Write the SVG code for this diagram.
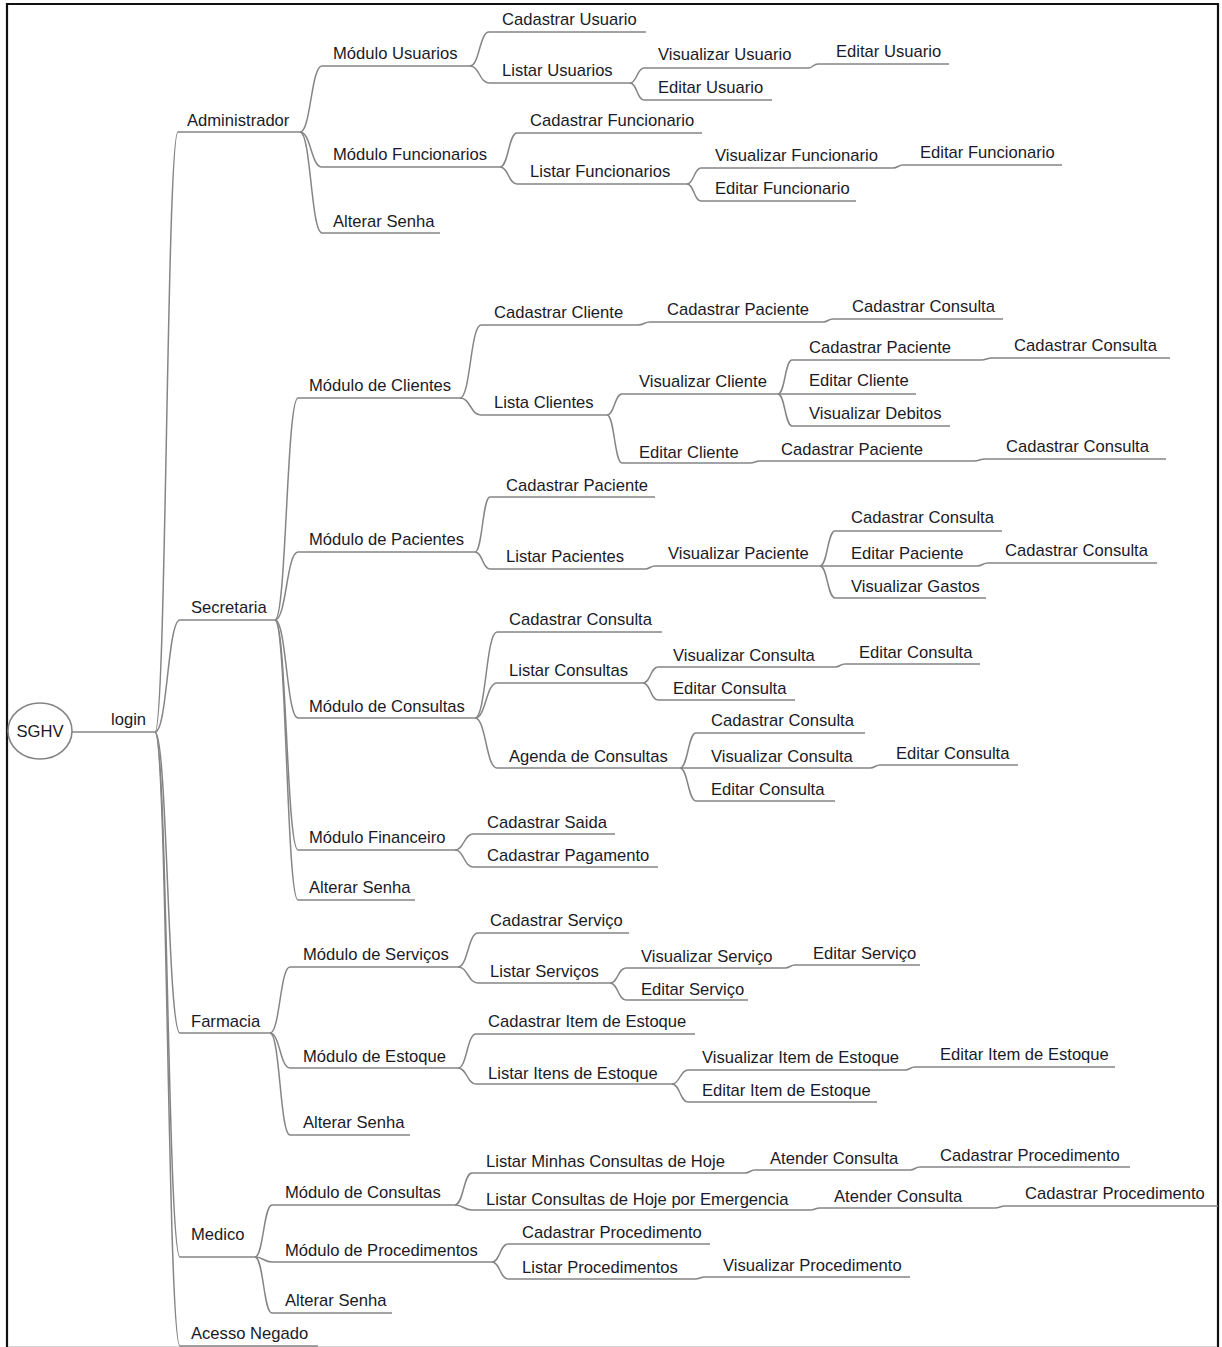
<svg xmlns="http://www.w3.org/2000/svg" width="1222" height="1347" viewBox="0 0 1222 1347">
  <style>
    .t { font-family: "Liberation Sans", Arial, sans-serif; font-size: 16.6px; fill: #1a1a28; }
    .u { stroke: #858585; stroke-width: 1.7; fill: none; }
    .c path { stroke: #858585; stroke-width: 1.5; fill: none; }
  </style>
  <rect x="0" y="0" width="1222" height="1347" fill="#ffffff"/>
  <!-- frame -->
  <path d="M7 1347 V4 H1218 V1347" fill="none" stroke="#111111" stroke-width="2.2"/>
  <line x1="8" y1="1346.5" x2="1217" y2="1346.5" stroke="#d4d4d4" stroke-width="1"/>

  <!-- connectors -->
  <g id="connectors" class="c">
    <path d="M155 732 C166.5 732 166.5 132 178 132"/>
    <path d="M155 732 C167.5 732 167.5 620 180 620"/>
    <path d="M155 732 C167.5 732 167.5 1033 180 1033"/>
    <path d="M155 732 C167.5 732 167.5 1257 180 1257"/>
    <path d="M155 732 C167.5 732 167.5 1346 180 1346"/>

    <path d="M300 132 C311 132 311 66 322 66"/>
    <path d="M300 132 C311 132 311 167 322 167"/>
    <path d="M300 132 C311 132 311 233 322 233"/>
    <path d="M470 66 C479.5 66 479.5 32 489 32"/>
    <path d="M470 66 C479.5 66 479.5 83 489 83"/>
    <path d="M630 83 C637 83 637 68 644 68"/>
    <path d="M630 83 C637 83 637 100 644 100"/>
    <path d="M808 68 C813 68 813 64 818 64"/>
    <path d="M500 167 C508.5 167 508.5 133 517 133"/>
    <path d="M500 167 C508.5 167 508.5 184 517 184"/>
    <path d="M687 184 C694 184 694 168 701 168"/>
    <path d="M687 184 C694 184 694 201 701 201"/>
    <path d="M893 168 C898 168 898 165 903 165"/>

    <path d="M275 620 C286.5 620 286.5 398 298 398"/>
    <path d="M275 620 C286.5 620 286.5 552 298 552"/>
    <path d="M275 620 C286.5 620 286.5 718 298 718"/>
    <path d="M275 620 C286.5 620 286.5 850 298 850"/>
    <path d="M275 620 C286.5 620 286.5 900 298 900"/>
    <path d="M460 398 C470.5 398 470.5 325 481 325"/>
    <path d="M460 398 C470.5 398 470.5 415 481 415"/>
    <path d="M638 325 C644 325 644 322 650 322"/>
    <path d="M823 322 C828 322 828 319 833 319"/>
    <path d="M607 415 C614.5 415 614.5 394 622 394"/>
    <path d="M607 415 C614.5 415 614.5 463 622 463"/>
    <path d="M778 394 C785 394 785 360 792 360"/>
    <path d="M778 394 C785 394 785 426 792 426"/>
    <path d="M981 360 C986.5 360 986.5 358 992 358"/>
    <path d="M750 463 C755 463 755 461 760 461"/>
    <path d="M974 461 C979.5 461 979.5 459 985 459"/>
    <path d="M475 552 C482.5 552 482.5 497 490 497"/>
    <path d="M475 552 C482.5 552 482.5 569 490 569"/>
    <path d="M645 569 C650 569 650 566 655 566"/>
    <path d="M820 566 C827.5 566 827.5 531 835 531"/>
    <path d="M820 566 C827.5 566 827.5 598 835 598"/>
    <path d="M977 566 C982.5 566 982.5 563 988 563"/>
    <path d="M475 718 C486 718 486 632 497 632"/>
    <path d="M475 718 C486 718 486 683 497 683"/>
    <path d="M475 718 C486 718 486 768 497 768"/>
    <path d="M643 683 C650.5 683 650.5 667 658 667"/>
    <path d="M643 683 C650.5 683 650.5 700 658 700"/>
    <path d="M835 667 C840 667 840 664 845 664"/>
    <path d="M680 768 C688 768 688 733 696 733"/>
    <path d="M680 768 C688 768 688 801 696 801"/>
    <path d="M870 768 C875 768 875 765 880 765"/>
    <path d="M455 850 C464 850 464 834 473 834"/>
    <path d="M455 850 C464 850 464 867 473 867"/>

    <path d="M270 1033 C280 1033 280 967 290 967"/>
    <path d="M270 1033 C280 1033 280 1068 290 1068"/>
    <path d="M270 1033 C280 1033 280 1135 290 1135"/>
    <path d="M458 967 C468 967 468 933 478 933"/>
    <path d="M458 967 C468 967 468 983 478 983"/>
    <path d="M610 983 C618 983 618 968 626 968"/>
    <path d="M610 983 C618 983 618 1000 626 1000"/>
    <path d="M785 968 C790 968 790 965 795 965"/>
    <path d="M458 1068 C467 1068 467 1034 476 1034"/>
    <path d="M458 1068 C467 1068 467 1084 476 1084"/>
    <path d="M672 1084 C680 1084 680 1070 688 1070"/>
    <path d="M672 1084 C680 1084 680 1102 688 1102"/>
    <path d="M905 1070 C910 1070 910 1067 915 1067"/>

    <path d="M255 1257 C263.5 1257 263.5 1205 272 1205"/>
    <path d="M255 1257 C263.5 1257 263.5 1262 272 1262"/>
    <path d="M255 1257 C263.5 1257 263.5 1313 272 1313"/>
    <path d="M455 1205 C463.5 1205 463.5 1173 472 1173"/>
    <path d="M455 1205 C463.5 1205 463.5 1210 472 1210"/>
    <path d="M745 1173 C750 1173 750 1170 755 1170"/>
    <path d="M910 1170 C915 1170 915 1167 920 1167"/>
    <path d="M810 1210 C815 1210 815 1208 820 1208"/>
    <path d="M995 1208 C1000 1208 1000 1206 1005 1206"/>
    <path d="M492 1262 C500 1262 500 1244 508 1244"/>
    <path d="M492 1262 C500 1262 500 1279 508 1279"/>
    <path d="M695 1279 C700 1279 700 1277 705 1277"/>
  </g>

  <!-- root -->
  <g id="n-sghv">
    <ellipse cx="40" cy="731" rx="32" ry="28" fill="#ffffff" stroke="#858585" stroke-width="1.6"/>
    <text class="t" x="40" y="737" text-anchor="middle">SGHV</text>
  </g>
  <g id="n-login"><line class="u" x1="72" y1="732" x2="155" y2="732"/><text class="t" x="111" y="725">login</text></g>

  <!-- Administrador -->
  <g id="n-admin"><line class="u" x1="178" y1="132" x2="300" y2="132"/><text class="t" x="187" y="126">Administrador</text></g>
  <g id="n-admin-usuarios"><line class="u" x1="322" y1="66" x2="470" y2="66"/><text class="t" x="333" y="59">Módulo Usuarios</text></g>
  <g id="n-admin-usuarios-cad"><line class="u" x1="489" y1="32" x2="646" y2="32"/><text class="t" x="502" y="25">Cadastrar Usuario</text></g>
  <g id="n-admin-usuarios-list"><line class="u" x1="489" y1="83" x2="630" y2="83"/><text class="t" x="502" y="76">Listar Usuarios</text></g>
  <g id="n-admin-usuarios-vis"><line class="u" x1="644" y1="68" x2="808" y2="68"/><text class="t" x="658" y="60">Visualizar Usuario</text></g>
  <g id="n-admin-usuarios-vis-ed"><line class="u" x1="818" y1="64" x2="949" y2="64"/><text class="t" x="836" y="57">Editar Usuario</text></g>
  <g id="n-admin-usuarios-ed"><line class="u" x1="644" y1="100" x2="772" y2="100"/><text class="t" x="658" y="93">Editar Usuario</text></g>
  <g id="n-admin-func"><line class="u" x1="322" y1="167" x2="500" y2="167"/><text class="t" x="333" y="160">Módulo Funcionarios</text></g>
  <g id="n-admin-func-cad"><line class="u" x1="517" y1="133" x2="702" y2="133"/><text class="t" x="530" y="126">Cadastrar Funcionario</text></g>
  <g id="n-admin-func-list"><line class="u" x1="517" y1="184" x2="687" y2="184"/><text class="t" x="530" y="177">Listar Funcionarios</text></g>
  <g id="n-admin-func-vis"><line class="u" x1="701" y1="168" x2="893" y2="168"/><text class="t" x="715" y="161">Visualizar Funcionario</text></g>
  <g id="n-admin-func-vis-ed"><line class="u" x1="903" y1="165" x2="1062" y2="165"/><text class="t" x="920" y="158">Editar Funcionario</text></g>
  <g id="n-admin-func-ed"><line class="u" x1="701" y1="201" x2="856" y2="201"/><text class="t" x="715" y="194">Editar Funcionario</text></g>
  <g id="n-admin-senha"><line class="u" x1="322" y1="233" x2="440" y2="233"/><text class="t" x="333" y="227">Alterar Senha</text></g>

  <!-- Secretaria -->
  <g id="n-sec"><line class="u" x1="180" y1="620" x2="275" y2="620"/><text class="t" x="191" y="613">Secretaria</text></g>
  <g id="n-sec-cli"><line class="u" x1="298" y1="398" x2="460" y2="398"/><text class="t" x="309" y="391">Módulo de Clientes</text></g>
  <g id="n-sec-cli-cad"><line class="u" x1="481" y1="325" x2="638" y2="325"/><text class="t" x="494" y="318">Cadastrar Cliente</text></g>
  <g id="n-sec-cli-cad-pac"><line class="u" x1="650" y1="322" x2="823" y2="322"/><text class="t" x="667" y="315">Cadastrar Paciente</text></g>
  <g id="n-sec-cli-cad-pac-con"><line class="u" x1="833" y1="319" x2="1003" y2="319"/><text class="t" x="852" y="312">Cadastrar Consulta</text></g>
  <g id="n-sec-cli-list"><line class="u" x1="481" y1="415" x2="607" y2="415"/><text class="t" x="494" y="408">Lista Clientes</text></g>
  <g id="n-sec-cli-vis"><line class="u" x1="622" y1="394" x2="778" y2="394"/><text class="t" x="639" y="387">Visualizar Cliente</text></g>
  <g id="n-sec-cli-vis-pac"><line class="u" x1="792" y1="360" x2="981" y2="360"/><text class="t" x="809" y="353">Cadastrar Paciente</text></g>
  <g id="n-sec-cli-vis-pac-con"><line class="u" x1="992" y1="358" x2="1170" y2="358"/><text class="t" x="1014" y="351">Cadastrar Consulta</text></g>
  <g id="n-sec-cli-vis-ed"><line class="u" x1="778" y1="394" x2="916" y2="394"/><text class="t" x="809" y="386">Editar Cliente</text></g>
  <g id="n-sec-cli-vis-deb"><line class="u" x1="792" y1="426" x2="950" y2="426"/><text class="t" x="809" y="419">Visualizar Debitos</text></g>
  <g id="n-sec-cli-ed"><line class="u" x1="622" y1="463" x2="750" y2="463"/><text class="t" x="639" y="458">Editar Cliente</text></g>
  <g id="n-sec-cli-ed-pac"><line class="u" x1="760" y1="461" x2="974" y2="461"/><text class="t" x="781" y="455">Cadastrar Paciente</text></g>
  <g id="n-sec-cli-ed-pac-con"><line class="u" x1="985" y1="459" x2="1166" y2="459"/><text class="t" x="1006" y="452">Cadastrar Consulta</text></g>

  <g id="n-sec-pac"><line class="u" x1="298" y1="552" x2="475" y2="552"/><text class="t" x="309" y="545">Módulo de Pacientes</text></g>
  <g id="n-sec-pac-cad"><line class="u" x1="490" y1="497" x2="655" y2="497"/><text class="t" x="506" y="491">Cadastrar Paciente</text></g>
  <g id="n-sec-pac-list"><line class="u" x1="490" y1="569" x2="645" y2="569"/><text class="t" x="506" y="562">Listar Pacientes</text></g>
  <g id="n-sec-pac-vis"><line class="u" x1="655" y1="566" x2="820" y2="566"/><text class="t" x="668" y="559">Visualizar Paciente</text></g>
  <g id="n-sec-pac-vis-con"><line class="u" x1="835" y1="531" x2="1002" y2="531"/><text class="t" x="851" y="523">Cadastrar Consulta</text></g>
  <g id="n-sec-pac-vis-ed"><line class="u" x1="820" y1="566" x2="977" y2="566"/><text class="t" x="851" y="559">Editar Paciente</text></g>
  <g id="n-sec-pac-vis-ed-con"><line class="u" x1="988" y1="563" x2="1157" y2="563"/><text class="t" x="1005" y="556">Cadastrar Consulta</text></g>
  <g id="n-sec-pac-vis-gas"><line class="u" x1="835" y1="598" x2="986" y2="598"/><text class="t" x="851" y="592">Visualizar Gastos</text></g>

  <g id="n-sec-con"><line class="u" x1="298" y1="718" x2="475" y2="718"/><text class="t" x="309" y="712">Módulo de Consultas</text></g>
  <g id="n-sec-con-cad"><line class="u" x1="497" y1="632" x2="662" y2="632"/><text class="t" x="509" y="625">Cadastrar Consulta</text></g>
  <g id="n-sec-con-list"><line class="u" x1="497" y1="683" x2="643" y2="683"/><text class="t" x="509" y="676">Listar Consultas</text></g>
  <g id="n-sec-con-list-vis"><line class="u" x1="658" y1="667" x2="835" y2="667"/><text class="t" x="673" y="661">Visualizar Consulta</text></g>
  <g id="n-sec-con-list-vis-ed"><line class="u" x1="845" y1="664" x2="980" y2="664"/><text class="t" x="859" y="658">Editar Consulta</text></g>
  <g id="n-sec-con-list-ed"><line class="u" x1="658" y1="700" x2="795" y2="700"/><text class="t" x="673" y="694">Editar Consulta</text></g>
  <g id="n-sec-con-ag"><line class="u" x1="497" y1="768" x2="680" y2="768"/><text class="t" x="509" y="762">Agenda de Consultas</text></g>
  <g id="n-sec-con-ag-cad"><line class="u" x1="696" y1="733" x2="865" y2="733"/><text class="t" x="711" y="726">Cadastrar Consulta</text></g>
  <g id="n-sec-con-ag-vis"><line class="u" x1="680" y1="768" x2="870" y2="768"/><text class="t" x="711" y="762">Visualizar Consulta</text></g>
  <g id="n-sec-con-ag-vis-ed"><line class="u" x1="880" y1="765" x2="1018" y2="765"/><text class="t" x="896" y="759">Editar Consulta</text></g>
  <g id="n-sec-con-ag-ed"><line class="u" x1="696" y1="801" x2="835" y2="801"/><text class="t" x="711" y="795">Editar Consulta</text></g>

  <g id="n-sec-fin"><line class="u" x1="298" y1="850" x2="455" y2="850"/><text class="t" x="309" y="843">Módulo Financeiro</text></g>
  <g id="n-sec-fin-saida"><line class="u" x1="473" y1="834" x2="615" y2="834"/><text class="t" x="487" y="828">Cadastrar Saida</text></g>
  <g id="n-sec-fin-pag"><line class="u" x1="473" y1="867" x2="658" y2="867"/><text class="t" x="487" y="861">Cadastrar Pagamento</text></g>
  <g id="n-sec-senha"><line class="u" x1="298" y1="900" x2="415" y2="900"/><text class="t" x="309" y="893">Alterar Senha</text></g>

  <!-- Farmacia -->
  <g id="n-farm"><line class="u" x1="180" y1="1033" x2="270" y2="1033"/><text class="t" x="191" y="1027">Farmacia</text></g>
  <g id="n-farm-srv"><line class="u" x1="290" y1="967" x2="458" y2="967"/><text class="t" x="303" y="960">Módulo de Serviços</text></g>
  <g id="n-farm-srv-cad"><line class="u" x1="478" y1="933" x2="629" y2="933"/><text class="t" x="490" y="926">Cadastrar Serviço</text></g>
  <g id="n-farm-srv-list"><line class="u" x1="478" y1="983" x2="610" y2="983"/><text class="t" x="490" y="977">Listar Serviços</text></g>
  <g id="n-farm-srv-vis"><line class="u" x1="626" y1="968" x2="785" y2="968"/><text class="t" x="641" y="962">Visualizar Serviço</text></g>
  <g id="n-farm-srv-vis-ed"><line class="u" x1="795" y1="965" x2="920" y2="965"/><text class="t" x="813" y="959">Editar Serviço</text></g>
  <g id="n-farm-srv-ed"><line class="u" x1="626" y1="1000" x2="748" y2="1000"/><text class="t" x="641" y="995">Editar Serviço</text></g>
  <g id="n-farm-est"><line class="u" x1="290" y1="1068" x2="458" y2="1068"/><text class="t" x="303" y="1062">Módulo de Estoque</text></g>
  <g id="n-farm-est-cad"><line class="u" x1="476" y1="1034" x2="695" y2="1034"/><text class="t" x="488" y="1027">Cadastrar Item de Estoque</text></g>
  <g id="n-farm-est-list"><line class="u" x1="476" y1="1084" x2="672" y2="1084"/><text class="t" x="488" y="1079">Listar Itens de Estoque</text></g>
  <g id="n-farm-est-vis"><line class="u" x1="688" y1="1070" x2="905" y2="1070"/><text class="t" x="702" y="1063">Visualizar Item de Estoque</text></g>
  <g id="n-farm-est-vis-ed"><line class="u" x1="915" y1="1067" x2="1115" y2="1067"/><text class="t" x="940" y="1060">Editar Item de Estoque</text></g>
  <g id="n-farm-est-ed"><line class="u" x1="688" y1="1102" x2="877" y2="1102"/><text class="t" x="702" y="1096">Editar Item de Estoque</text></g>
  <g id="n-farm-senha"><line class="u" x1="290" y1="1135" x2="410" y2="1135"/><text class="t" x="303" y="1128">Alterar Senha</text></g>

  <!-- Medico -->
  <g id="n-med"><line class="u" x1="180" y1="1257" x2="255" y2="1257"/><text class="t" x="191" y="1240">Medico</text></g>
  <g id="n-med-con"><line class="u" x1="272" y1="1205" x2="455" y2="1205"/><text class="t" x="285" y="1198">Módulo de Consultas</text></g>
  <g id="n-med-con-minhas"><line class="u" x1="472" y1="1173" x2="745" y2="1173"/><text class="t" x="486" y="1167">Listar Minhas Consultas de Hoje</text></g>
  <g id="n-med-con-minhas-at"><line class="u" x1="755" y1="1170" x2="910" y2="1170"/><text class="t" x="770" y="1164">Atender Consulta</text></g>
  <g id="n-med-con-minhas-at-proc"><line class="u" x1="920" y1="1167" x2="1130" y2="1167"/><text class="t" x="940" y="1161">Cadastrar Procedimento</text></g>
  <g id="n-med-con-emerg"><line class="u" x1="472" y1="1210" x2="810" y2="1210"/><text class="t" x="486" y="1205">Listar Consultas de Hoje por Emergencia</text></g>
  <g id="n-med-con-emerg-at"><line class="u" x1="820" y1="1208" x2="995" y2="1208"/><text class="t" x="834" y="1202">Atender Consulta</text></g>
  <g id="n-med-con-emerg-at-proc"><line class="u" x1="1005" y1="1206" x2="1218" y2="1206"/><text class="t" x="1025" y="1199">Cadastrar Procedimento</text></g>
  <g id="n-med-proc"><line class="u" x1="272" y1="1262" x2="492" y2="1262"/><text class="t" x="285" y="1256">Módulo de Procedimentos</text></g>
  <g id="n-med-proc-cad"><line class="u" x1="508" y1="1244" x2="710" y2="1244"/><text class="t" x="522" y="1238">Cadastrar Procedimento</text></g>
  <g id="n-med-proc-list"><line class="u" x1="508" y1="1279" x2="695" y2="1279"/><text class="t" x="522" y="1273">Listar Procedimentos</text></g>
  <g id="n-med-proc-list-vis"><line class="u" x1="705" y1="1277" x2="910" y2="1277"/><text class="t" x="723" y="1271">Visualizar Procedimento</text></g>
  <g id="n-med-senha"><line class="u" x1="272" y1="1313" x2="392" y2="1313"/><text class="t" x="285" y="1306">Alterar Senha</text></g>

  <g id="n-negado"><line class="u" x1="180" y1="1346" x2="318" y2="1346"/><text class="t" x="191" y="1339">Acesso Negado</text></g>
</svg>
